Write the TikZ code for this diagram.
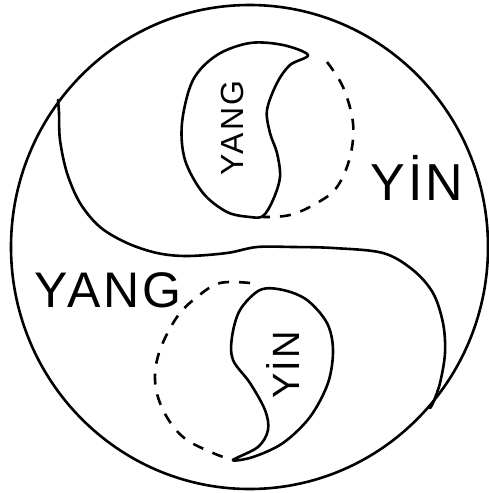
\documentclass[tikz,border=0pt]{standalone}
\usepackage{fontspec}
\setmainfont{Liberation Sans}
\newfontfamily\handfont[LetterSpace=6]{Liberation Sans}
\begin{document}
\begin{tikzpicture}[x=1pt,y=-1pt,
  ink/.style={line width=2.6pt,line join=round,line cap=round},
  dashink/.style={line width=2.6pt,dash pattern=on 11pt off 10pt},
  lbl/.style={inner sep=0pt,font=\handfont\fontsize{#1}{#1}\selectfont}]
\useasboundingbox (0,0) rectangle (489,493);
% outer circle
\draw[ink] (249.5,247) ellipse [x radius=238.5, y radius=242];
% S curve
\draw[ink] plot[smooth,tension=0.55] coordinates {(58,100) (59,113) (60,140) (67,173) (80,203) (100,227) (127,243) (157,253) (187,256) (227,253) (257,247) (293,247) (333,248) (383,253) (413,270) (433,293) (443,323) (445,353) (440,383) (433,403) (430,408)};
% upper yang comma
\draw[ink] plot[smooth cycle,tension=0.55] coordinates {(308,55) (283,45) (250,43) (217,55) (193,80) (182,123) (185,160) (203,193) (227,212) (250,217) (263,216) (273,200) (280,177) (277,153) (270,133) (267,110) (277,83) (290,65)};
% upper dashed arc
\draw[dashink] plot[smooth,tension=0.6] coordinates {(327,62) (343,87) (353,123) (350,157) (337,187) (317,203) (290,215) (263,217)};
% lower yin comma
\draw[ink] plot[smooth cycle,tension=0.55] coordinates {(233,460) (253,457) (283,443) (310,417) (328,383) (333,350) (327,323) (307,300) (283,290) (260,290) (240,310) (232,337) (233,360) (250,383) (265,410) (268,430) (258,447)};
% lower dashed arc
\draw[dashink] plot[smooth,tension=0.6] coordinates {(250,283) (220,283) (197,297) (177,317) (160,350) (155,380) (163,410) (183,437) (213,453) (233,460)};
% labels
\node[lbl=52] (yinR) at (417,178) {YİN};
\node[lbl=50] (yangL) at (108,290) {YANG};
\node[lbl=32,rotate=90] (yangIn) at (232,128) {YANG};
\node[lbl=38,rotate=90] (yinIn) at (283,365) {YİN};
\end{tikzpicture}
\end{document}
